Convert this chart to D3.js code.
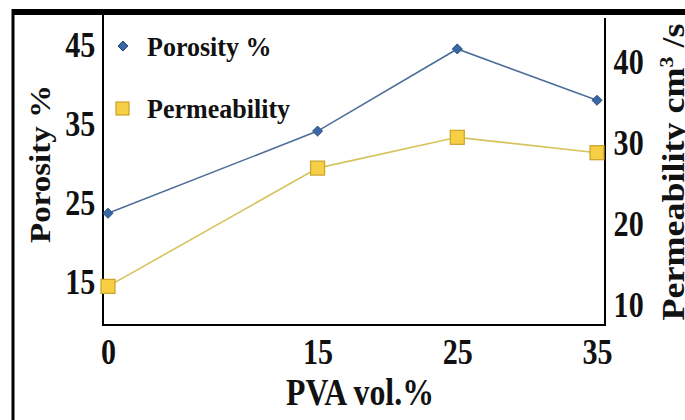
<!DOCTYPE html>
<html><head><meta charset="utf-8">
<script src="https://cdn.jsdelivr.net/npm/d3@7"></script>
<style>html,body{margin:0;padding:0;background:#fff;overflow:hidden}</style>
</head><body>
<svg id="c" width="685" height="420"></svg>
<script>
const pva = [0, 15, 25, 35];
const porosity = [23.7, 34.1, 44.5, 38.0];
const permeability = [12.3, 26.9, 30.7, 28.8];
const xTicks = [0, 15, 25, 35];
const leftTicks = [15, 25, 35, 45];
const rightTicks = [10, 20, 30, 40];

const svg = d3.select("#c");
const font = "'Liberation Serif','Times New Roman',serif";

// frame
svg.append("rect").attr("x",12).attr("y",9).attr("width",673).attr("height",6).attr("fill","#000");
svg.append("rect").attr("x",11.5).attr("y",9).attr("width",3).attr("height",411).attr("fill","#000");

const x = d3.scaleLinear().domain([0,35]).range([108,597]);
const yL = d3.scaleLinear().domain([15,45]).range([282,45]);
const yR = d3.scaleLinear().domain([10,40]).range([305,62]);

const L=103, R=605, B=325;
svg.append("line").attr("x1",L).attr("x2",L).attr("y1",15).attr("y2",B+1).attr("stroke","#000").attr("stroke-width",2);
svg.append("line").attr("x1",R).attr("x2",R).attr("y1",18).attr("y2",B+1).attr("stroke","#000").attr("stroke-width",2);
svg.append("line").attr("x1",L).attr("x2",R+1).attr("y1",B).attr("y2",B).attr("stroke","#000").attr("stroke-width",2);

const ax = svg.append("g").attr("transform",`translate(0,${B})`)
  .call(d3.axisBottom(x).tickValues(xTicks).tickSize(0).tickPadding(15).tickFormat(d3.format("d")));
const al = svg.append("g").attr("transform",`translate(${L},0)`)
  .call(d3.axisLeft(yL).tickValues(leftTicks).tickSize(0).tickPadding(9));
const ar = svg.append("g").attr("transform",`translate(${R},0)`)
  .call(d3.axisRight(yR).tickValues(rightTicks).tickSize(0).tickPadding(10));
[ax,al,ar].forEach(g=>{
  g.select(".domain").remove();
  g.selectAll("text").attr("font-family",font).attr("font-weight","bold").attr("font-size",35)
   .attr("fill","#111").attr("transform","scale(0.86,1)");
});
ax.selectAll("text").attr("dy","0.68em");

const lineP = d3.line().x((d,i)=>x(pva[i])).y(d=>yL(d));
const lineQ = d3.line().x((d,i)=>x(pva[i])).y(d=>yR(d));
svg.append("path").attr("d",lineP(porosity)).attr("fill","none").attr("stroke","#4d6f99").attr("stroke-width",1.6);
svg.append("path").attr("d",lineQ(permeability)).attr("fill","none").attr("stroke","#d6c35e").attr("stroke-width",1.6);

const diamond = d3.symbol().type(d3.symbolDiamond2).size(64);
svg.selectAll(".dp").data(porosity).join("path")
  .attr("transform",(d,i)=>`translate(${x(pva[i])},${yL(d)})`)
  .attr("d",diamond).attr("fill","#3a68a6").attr("stroke","#244a7a").attr("stroke-width",1);
svg.selectAll(".sq").data(permeability).join("rect")
  .attr("x",(d,i)=>x(pva[i])-7).attr("y",d=>yR(d)-7).attr("width",14).attr("height",14)
  .attr("fill","#f6cf45").attr("stroke","#c9a32b").attr("stroke-width",1.2);

// legend
svg.append("path").attr("transform","translate(123,46)").attr("d",diamond).attr("fill","#3a68a6").attr("stroke","#244a7a");
svg.append("rect").attr("x",116).attr("y",102).attr("width",13).attr("height",13).attr("fill","#f6cf45").attr("stroke","#c9a32b").attr("stroke-width",1.2);
svg.append("text").attr("transform","translate(147,46) scale(0.93,1)").attr("dy","0.35em").text("Porosity %")
  .attr("font-family",font).attr("font-weight","bold").attr("font-size",28).attr("fill","#111");
svg.append("text").attr("transform","translate(147,108) scale(0.93,1)").attr("dy","0.35em").text("Permeability")
  .attr("font-family",font).attr("font-weight","bold").attr("font-size",28).attr("fill","#111");

// axis titles
svg.append("text").attr("transform","translate(360,405) scale(0.86,1)").attr("text-anchor","middle").text("PVA vol.%")
  .attr("font-family",font).attr("font-weight","bold").attr("font-size",37).attr("fill","#111");
svg.append("text").attr("transform","translate(50,164) rotate(-90) scale(1,0.9)").attr("text-anchor","middle").text("Porosity %")
  .attr("font-family",font).attr("font-weight","bold").attr("font-size",33).attr("fill","#111");
const rt = svg.append("text").attr("transform","translate(684,172) rotate(-90) scale(1,0.9)").attr("text-anchor","middle")
  .attr("font-family",font).attr("font-weight","bold").attr("font-size",36).attr("fill","#111");
rt.append("tspan").text("Permeability cm");
rt.append("tspan").attr("baseline-shift","super").attr("font-size",22).text("3");
rt.append("tspan").text(" /s");
</script>
</body></html>
